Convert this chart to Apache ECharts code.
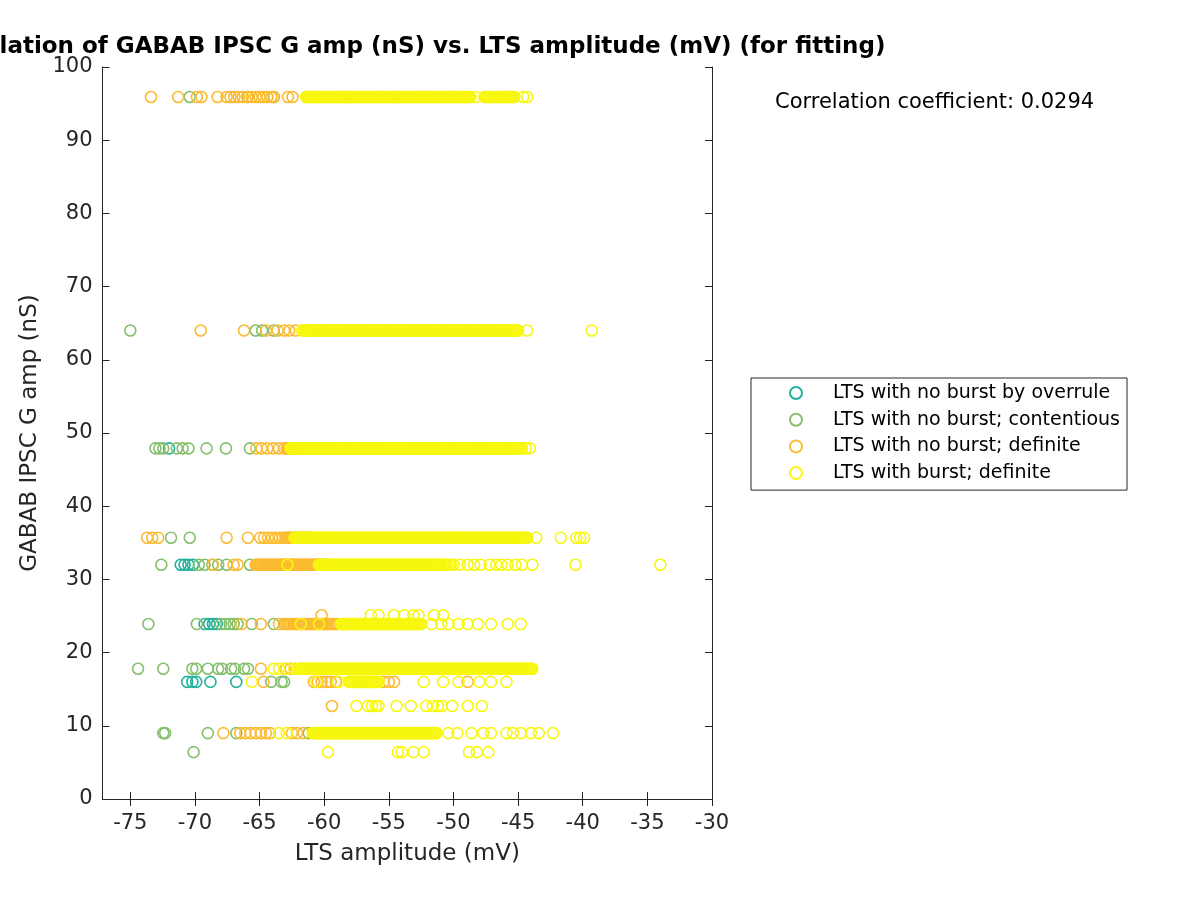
<!DOCTYPE html>
<html>
<head>
<meta charset="utf-8">
<script src="https://cdn.jsdelivr.net/npm/echarts@6/dist/echarts.min.js"></script>
<style>
  html, body { margin: 0; padding: 0; background: #fff; }
  #chart { width: 1200px; height: 900px; }
</style>
</head>
<body>
<div id="chart"></div>
<script>
// tick labels
const xTicks = [-75, -70, -65, -60, -55, -50, -45, -40, -35, -30]
const yTicks = [0, 10, 20, 30, 40, 50, 60, 70, 80, 90, 100]

const seriesNames = [
  'LTS with no burst by overrule',
  'LTS with no burst; contentious',
  'LTS with no burst; definite',
  'LTS with burst; definite'
]
const seriesColors = ['#22b29c', '#84bf6b', '#fbbb31', '#f7f70f']

// rows: [GABAB G amp (nS), LTS amplitudes (mV)]
const overruleRows = [
  [47.9, [-72.0]],
  [32.0, [-71.1, -70.8, -70.5, -70.15]],
  [23.9, [-69.25, -68.9, -68.6, -68.3]],
  [16.0, [-70.6, -70.2, -69.9, -68.8, -66.8]]
]

const contentiousRows = [
  [95.9, [-70.4, -65.9, -63.9]],
  [64.0, [-75.0, -65.3, -64.8, -63.9]],
  [47.9, [-73.05, -72.75, -72.45, -71.4, -70.95, -70.5, -69.1, -67.6, -65.75]],
  [35.7, [-71.85, -70.4]],
  [32.0, [-72.6, -69.7, -69.25, -68.65, -68.2, -67.55, -65.75]],
  [23.9, [-73.6, -69.85, -68.0, -67.65, -67.3, -67.0, -66.7, -65.6, -63.9]],
  [17.8, [-74.4, -72.45, -70.2, -69.9, -69.0, -68.2, -67.9, -67.2, -66.9, -66.2, -65.9]],
  [16.0, [-64.1, -63.3, -63.1]],
  [9.0, [-72.45, -72.3, -69.0, -66.8, -61.2]],
  [6.4, [-70.1]]
]

const definiteRows = [
  [95.9, [-73.4, -71.3, -69.85, -69.5, -68.25, -67.55, -67.25, -66.95, -66.6, -66.3, -65.95, -65.6, -65.3, -65.0, -64.7, -64.4, -64.1, -63.9, -62.8, -62.45, -61.2, -58.0, -54.6]],
  [64.0, [-69.55, -66.2, -64.5, -63.6, -63.1, -62.7, -62.2, -61.3, -52.0]],
  [47.9, [-65.25, -64.85, -64.4, -63.95, -63.5, -63.1, -62.9, -62.8, -62.7, -62.6, -62.5, -62.4, -62.3, -62.2, -62.1, -62.0, -61.9, -61.8, -61.7]],
  [35.7, [-73.7, -73.3, -72.85, -67.55, -65.9, -64.95, -64.65, -64.35, -64.05, -63.75, -63.45, -63.2, -63.0, -62.9, -62.8, -62.7, -62.6, -62.5, -62.4, -62.3, -62.2, -62.1, -62.0, -61.9, -61.8, -61.7, -61.6, -61.5, -61.4, -61.3, -61.2, -61.1, -61.0]],
  [32.0, [-68.6, -67.0, -66.7, -65.3, -65.2, -65.1, -65.0, -64.9, -64.8, -64.7, -64.6, -64.5, -64.4, -64.3, -64.2, -64.1, -64.0, -63.9, -63.8, -63.7, -63.6, -63.5, -63.4, -63.3, -63.2, -63.1, -63.0, -62.9, -62.8, -62.7, -62.6, -62.5, -62.4, -62.3, -62.2, -62.1, -62.0, -61.9, -61.8, -61.7, -61.6, -61.5, -61.4, -61.3, -61.2, -61.1, -61.0, -60.9, -60.8, -60.7, -60.6, -60.5, -60.4, -60.3, -60.2, -60.1, -60.0, -59.8]],
  [25.1, [-60.2]],
  [23.9, [-66.4, -64.9, -63.5, -63.1, -62.95, -62.8, -62.65, -62.5, -62.35, -62.2, -62.05, -61.9, -61.75, -61.6, -61.45, -61.3, -61.15, -61.0, -60.85, -60.7, -60.55, -60.4, -60.25, -60.1, -59.95, -59.8, -59.65, -59.5, -59.35, -59.2, -59.05]],
  [17.8, [-64.9, -63.0, -62.6, -62.3, -61.8]],
  [16.0, [-64.7, -60.8, -60.5, -60.2, -59.8, -59.5, -59.1, -55.4, -55.0, -54.6, -48.9]],
  [12.7, [-59.4]],
  [9.0, [-67.8, -66.5, -66.1, -65.7, -65.3, -64.9, -64.5, -64.2, -62.5, -62.1, -61.6]]
]

const burstRows = [
  [95.9, [-61.4, -61.3, -61.2, -61.1, -61.0,
    -60.9, -60.8, -60.7, -60.6, -60.5, -60.4, -60.3, -60.2, -60.1, -60.0,
    -59.9, -59.8, -59.7, -59.6, -59.5, -59.4, -59.3, -59.2, -59.1, -59.0,
    -58.9, -58.8, -58.7, -58.6, -58.5, -58.4, -58.3, -58.2, -58.1, -58.0,
    -57.9, -57.8, -57.7, -57.6, -57.5, -57.4, -57.3, -57.2, -57.1, -57.0,
    -56.9, -56.8, -56.7, -56.6, -56.5, -56.4, -56.3, -56.2, -56.1, -56.0,
    -55.9, -55.8, -55.7, -55.6, -55.5, -55.4, -55.3, -55.2, -55.1, -55.0,
    -54.9, -54.8, -54.7, -54.6, -54.5, -54.4, -54.3, -54.2, -54.1, -54.0,
    -53.9, -53.8, -53.7, -53.6, -53.5, -53.4, -53.3, -53.2, -53.1, -53.0,
    -52.9, -52.8, -52.7, -52.6, -52.5, -52.4, -52.3, -52.2, -52.1, -52.0,
    -51.9, -51.8, -51.7, -51.6, -51.5, -51.4, -51.3, -51.2, -51.1, -51.0,
    -50.9, -50.8, -50.7, -50.6, -50.5, -50.4, -50.3, -50.2, -50.1, -50.0,
    -49.9, -49.8, -49.7, -49.6, -49.5, -49.4, -49.3, -49.2, -49.1, -49.0,
    -48.9, -48.8, -48.7, -48.3,
    -47.6, -47.5, -47.4, -47.3, -47.2, -47.1, -47.0,
    -46.9, -46.8, -46.7, -46.6, -46.5, -46.4, -46.3, -46.2, -46.1, -46.0,
    -45.9, -45.8, -45.7, -45.6, -45.5, -45.4, -45.3, -44.6, -44.3]],
  [64.0, [-61.7, -61.6, -61.5, -61.4, -61.3, -61.2, -61.1, -61.0,
    -60.9, -60.8, -60.7, -60.6, -60.5, -60.4, -60.3, -60.2, -60.1, -60.0,
    -59.9, -59.8, -59.7, -59.6, -59.5, -59.4, -59.3, -59.2, -59.1, -59.0,
    -58.9, -58.8, -58.7, -58.6, -58.5, -58.4, -58.3, -58.2, -58.1, -58.0,
    -57.9, -57.8, -57.7, -57.6, -57.5, -57.4, -57.3, -57.2, -57.1, -57.0,
    -56.9, -56.8, -56.7, -56.6, -56.5, -56.4, -56.3, -56.2, -56.1, -56.0,
    -55.9, -55.8, -55.7, -55.6, -55.5, -55.4, -55.3, -55.2, -55.1, -55.0,
    -54.9, -54.8, -54.7, -54.6, -54.5, -54.4, -54.3, -54.2, -54.1, -54.0,
    -53.9, -53.8, -53.7, -53.6, -53.5, -53.4, -53.3, -53.2, -53.1, -53.0,
    -52.9, -52.8, -52.7, -52.6, -52.5, -52.4, -52.3, -52.2, -52.1, -52.0,
    -51.9, -51.8, -51.7, -51.6, -51.5, -51.4, -51.3, -51.2, -51.1, -51.0,
    -50.9, -50.8, -50.7, -50.6, -50.5, -50.4, -50.3, -50.2, -50.1, -50.0,
    -49.9, -49.8, -49.7, -49.6, -49.5, -49.4, -49.3, -49.2, -49.1, -49.0,
    -48.9, -48.8, -48.7, -48.6, -48.5, -48.4, -48.3, -48.2, -48.1, -48.0,
    -47.9, -47.8, -47.7, -47.6, -47.5, -47.4, -47.3, -47.2, -47.1, -47.0,
    -46.9, -46.8, -46.7, -46.6, -46.5, -46.4, -46.3, -46.2, -46.1, -46.0,
    -45.9, -45.8, -45.7, -45.6, -45.5, -45.4, -45.3, -45.2, -45.1, -45.0,
    -44.3, -39.3]],
  [47.9, [-62.6, -62.5, -62.4, -62.3, -62.2, -62.1, -62.0,
    -61.9, -61.8, -61.7, -61.6, -61.5, -61.4, -61.3, -61.2, -61.1, -61.0,
    -60.9, -60.8, -60.7, -60.6, -60.5, -60.4, -60.3, -60.2, -60.1, -60.0,
    -59.9, -59.8, -59.7, -59.6, -59.5, -59.4, -59.3, -59.2, -59.1, -59.0,
    -58.9, -58.8, -58.7, -58.6, -58.5, -58.4, -58.3, -58.2, -58.1, -58.0,
    -57.9, -57.8, -57.7, -57.6, -57.5, -57.4, -57.3, -57.2, -57.1, -57.0,
    -56.9, -56.8, -56.7, -56.6, -56.5, -56.4, -56.3, -56.2, -56.1, -56.0,
    -55.9, -55.8, -55.7, -55.6, -55.5, -55.4, -55.3, -55.2, -55.1, -55.0,
    -54.9, -54.8, -54.7, -54.6, -54.5, -54.4, -54.3, -54.2, -54.1, -54.0,
    -53.9, -53.8, -53.7, -53.6, -53.5, -53.4, -53.3, -53.2, -53.1, -53.0,
    -52.9, -52.8, -52.7, -52.6, -52.5, -52.4, -52.3, -52.2, -52.1, -52.0,
    -51.9, -51.8, -51.7, -51.6, -51.5, -51.4, -51.3, -51.2, -51.1, -51.0,
    -50.9, -50.8, -50.7, -50.6, -50.5, -50.4, -50.3, -50.2, -50.1, -50.0,
    -49.9, -49.8, -49.7, -49.6, -49.5, -49.4, -49.3, -49.2, -49.1, -49.0,
    -48.9, -48.8, -48.7, -48.6, -48.5, -48.4, -48.3, -48.2, -48.1, -48.0,
    -47.9, -47.8, -47.7, -47.6, -47.5, -47.4, -47.3, -47.2, -47.1, -47.0,
    -46.9, -46.8, -46.7, -46.6, -46.5, -46.4, -46.3, -46.2, -46.1, -46.0,
    -45.9, -45.8, -45.7, -45.6, -45.5, -45.4, -45.3, -45.2, -45.1, -45.0,
    -44.9, -44.8, -44.7, -44.4, -44.1]],
  [35.7, [-62.3, -62.2, -62.1, -62.0,
    -61.9, -61.8, -61.7, -61.6, -61.5, -61.4, -61.3, -61.2, -61.1, -61.0,
    -60.9, -60.8, -60.7, -60.6, -60.5, -60.4, -60.3, -60.2, -60.1, -60.0,
    -59.9, -59.8, -59.7, -59.6, -59.5, -59.4, -59.3, -59.2, -59.1, -59.0,
    -58.9, -58.8, -58.7, -58.6, -58.5, -58.4, -58.3, -58.2, -58.1, -58.0,
    -57.9, -57.8, -57.7, -57.6, -57.5, -57.4, -57.3, -57.2, -57.1, -57.0,
    -56.9, -56.8, -56.7, -56.6, -56.5, -56.4, -56.3, -56.2, -56.1, -56.0,
    -55.9, -55.8, -55.7, -55.6, -55.5, -55.4, -55.3, -55.2, -55.1, -55.0,
    -54.9, -54.8, -54.7, -54.6, -54.5, -54.4, -54.3, -54.2, -54.1, -54.0,
    -53.9, -53.8, -53.7, -53.6, -53.5, -53.4, -53.3, -53.2, -53.1, -53.0,
    -52.9, -52.8, -52.7, -52.6, -52.5, -52.4, -52.3, -52.2, -52.1, -52.0,
    -51.9, -51.8, -51.7, -51.6, -51.5, -51.4, -51.3, -51.2, -51.1, -51.0,
    -50.9, -50.8, -50.7, -50.6, -50.5, -50.4, -50.3, -50.2, -50.1, -50.0,
    -49.9, -49.8, -49.7, -49.6, -49.5, -49.4, -49.3, -49.2, -49.1, -49.0,
    -48.9, -48.8, -48.7, -48.6, -48.5, -48.4, -48.3, -48.2, -48.1, -48.0,
    -47.9, -47.8, -47.7, -47.6, -47.5, -47.4, -47.3, -47.2, -47.1, -47.0,
    -46.9, -46.8, -46.7, -46.6, -46.5, -46.4, -46.3, -46.2, -46.1, -46.0,
    -45.9, -45.8, -45.7, -45.6, -45.5, -45.4, -45.3, -45.2, -45.1, -45.0,
    -44.9, -44.8, -44.7, -44.6, -44.5, -44.4, -44.3,
    -43.6, -41.7, -40.5, -40.2, -39.9]],
  [32.0, [-62.85, -60.4, -60.3, -60.2, -60.1, -60.0,
    -59.9, -59.8, -59.7, -59.6, -59.5, -59.4, -59.3, -59.2, -59.1, -59.0,
    -58.9, -58.8, -58.7, -58.6, -58.5, -58.4, -58.3, -58.2, -58.1, -58.0,
    -57.9, -57.8, -57.7, -57.6, -57.5, -57.4, -57.3, -57.2, -57.1, -57.0,
    -56.9, -56.8, -56.7, -56.6, -56.5, -56.4, -56.3, -56.2, -56.1, -56.0,
    -55.9, -55.8, -55.7, -55.6, -55.5, -55.4, -55.3, -55.2, -55.1, -55.0,
    -54.9, -54.8, -54.7, -54.6, -54.5, -54.4, -54.3, -54.2, -54.1, -54.0,
    -53.9, -53.8, -53.7, -53.6, -53.5, -53.4, -53.3, -53.2, -53.1, -53.0,
    -52.9, -52.8, -52.7, -52.6, -52.5, -52.4, -52.3, -52.2, -52.1, -52.0,
    -51.9, -51.8, -51.7, -51.6, -51.5, -51.4, -51.3, -51.2, -51.1, -51.0,
    -50.9, -50.7, -50.6, -50.5, -50.3, -50.2, -50.0,
    -49.5, -48.9, -48.4, -47.9, -47.2, -46.7, -46.3, -45.8, -45.2, -44.7, -43.9, -40.56, -34.0]],
  [25.1, [-56.4, -55.8, -54.6, -53.8, -53.1, -52.7, -51.5, -50.8]],
  [23.9, [-61.8, -60.4,
    -58.7, -58.6, -58.5, -58.4, -58.3, -58.2, -58.1, -58.0,
    -57.9, -57.8, -57.7, -57.6, -57.5, -57.4, -57.3, -57.2, -57.1, -57.0,
    -56.9, -56.8, -56.7, -56.6, -56.5, -56.4, -56.3, -56.2, -56.1, -56.0,
    -55.9, -55.8, -55.7, -55.6, -55.5, -55.4, -55.3, -55.2, -55.1, -55.0,
    -54.9, -54.8, -54.7, -54.6, -54.5, -54.4, -54.3, -54.2, -54.1, -54.0,
    -53.9, -53.8, -53.7, -53.6, -53.5, -53.4, -53.3, -53.2, -53.1, -53.0,
    -52.9, -52.8, -52.7, -52.6, -52.5,
    -51.7, -50.95, -50.4, -49.6, -48.9, -48.1, -47.1, -45.8, -44.8]],
  [17.8, [-63.9, -63.5, -62.9, -62.3,
    -62.0, -61.9, -61.8, -61.7, -61.6, -61.5, -61.4, -61.3, -61.2, -61.1, -61.0,
    -60.9, -60.8, -60.7, -60.6, -60.5, -60.4, -60.3, -60.2, -60.1, -60.0,
    -59.9, -59.8, -59.7, -59.6, -59.5, -59.4, -59.3, -59.2, -59.1, -59.0,
    -58.9, -58.8, -58.7, -58.6, -58.5, -58.4, -58.3, -58.2, -58.1, -58.0,
    -57.9, -57.8, -57.7, -57.6, -57.5, -57.4, -57.3, -57.2, -57.1, -57.0,
    -56.9, -56.8, -56.7, -56.6, -56.5, -56.4, -56.3, -56.2, -56.1, -56.0,
    -55.9, -55.8, -55.7, -55.6, -55.5, -55.4, -55.3, -55.2, -55.1, -55.0,
    -54.9, -54.8, -54.7, -54.6, -54.5, -54.4, -54.3, -54.2, -54.1, -54.0,
    -53.9, -53.8, -53.7, -53.6, -53.5, -53.4, -53.3, -53.2, -53.1, -53.0,
    -52.9, -52.8, -52.7, -52.6, -52.5, -52.4, -52.3, -52.2, -52.1, -52.0,
    -51.9, -51.8, -51.7, -51.6, -51.5, -51.4, -51.3, -51.2, -51.1, -51.0,
    -50.9, -50.8, -50.7, -50.6, -50.5, -50.4, -50.3, -50.2, -50.1, -50.0,
    -49.9, -49.8, -49.7, -49.6, -49.5, -49.4, -49.3, -49.2, -49.1, -49.0,
    -48.9, -48.8, -48.7, -48.6, -48.5, -48.4, -48.3, -48.2, -48.1, -48.0,
    -47.9, -47.8, -47.7, -47.6, -47.5, -47.4, -47.3, -47.2, -47.1, -47.0,
    -46.9, -46.8, -46.7, -46.6, -46.5, -46.4, -46.3, -46.2, -46.1, -46.0,
    -45.9, -45.8, -45.7, -45.6, -45.5, -45.4, -45.3, -45.2, -45.1, -45.0,
    -44.9, -44.8, -44.7, -44.6, -44.5, -44.4, -44.3, -44.2, -44.1, -44.0, -43.9]],
  [16.0, [-65.6, -60.6, -58.9,
    -58.1, -58.0, -57.9, -57.8, -57.7, -57.6, -57.5, -57.4, -57.3, -57.2, -57.1, -57.0,
    -56.9, -56.8, -56.7, -56.6, -56.5, -56.4, -56.3, -56.2, -56.1, -56.0, -55.9, -55.8,
    -52.3, -50.8, -49.6, -48.0, -47.1, -45.9]],
  [12.7, [-57.5, -56.6, -56.3, -56.0, -55.8, -54.4, -53.3, -52.1, -51.6, -51.2, -50.9, -50.1, -48.9, -47.8]],
  [9.0, [-63.5, -62.9,
    -60.9, -60.8, -60.7, -60.6, -60.5, -60.4, -60.3, -60.2, -60.1, -60.0,
    -59.9, -59.8, -59.7, -59.6, -59.5, -59.4, -59.3, -59.2, -59.1, -59.0,
    -58.9, -58.8, -58.7, -58.6, -58.5, -58.4, -58.3, -58.2, -58.1, -58.0,
    -57.9, -57.8, -57.7, -57.6, -57.5, -57.4, -57.3, -57.2, -57.1, -57.0,
    -56.9, -56.8, -56.7, -56.6, -56.5, -56.4, -56.3, -56.2, -56.1, -56.0,
    -55.9, -55.8, -55.7, -55.6, -55.5, -55.4, -55.3, -55.2, -55.1, -55.0,
    -54.9, -54.8, -54.7, -54.6, -54.5, -54.4, -54.3, -54.2, -54.1, -54.0,
    -53.9, -53.8, -53.7, -53.6, -53.5, -53.4, -53.3, -53.2, -53.1, -53.0,
    -52.9, -52.8, -52.7, -52.6, -52.5, -52.4, -52.3, -52.2, -52.1, -52.0,
    -51.9, -51.8, -51.7, -51.6, -51.5, -51.4, -51.3,
    -50.4, -49.7, -48.6, -47.7, -47.1, -45.9, -45.4, -44.8, -44.0, -43.4, -42.3]],
  [6.4, [-59.7, -54.3, -54.0, -53.1, -52.3, -48.8, -48.2, -47.3]]
]

const correlationText = 'Correlation coefficient: 0.0294'
const titleText = 'Correlation of GABAB IPSC G amp (nS) vs. LTS amplitude (mV) (for fitting)'

const toPoints = rows => rows.flatMap(([y, xs]) => xs.map(x => [x, y]))
const allRows = [overruleRows, contentiousRows, definiteRows, burstRows]

const FONT = 'DejaVu Sans'
const AXIS_COLOR = '#262626'

const chart = echarts.init(document.getElementById('chart'), null, { renderer: 'canvas' })

const baseAxis = {
  axisLine: { show: true, lineStyle: { color: AXIS_COLOR, width: 1 } },
  axisTick: { show: true, inside: true, length: 7, lineStyle: { color: AXIS_COLOR } },
  splitLine: { show: false }
}

const option = {
  animation: false,
  backgroundColor: '#fff',
  grid: { left: 102.5, right: 488, top: 67, bottom: 101, containLabel: false },
  xAxis: [
    {
      ...baseAxis,
      type: 'value',
      min: -77.15,
      max: -30,
      position: 'bottom',
      axisTick: { ...baseAxis.axisTick, customValues: xTicks },
      axisLabel: {
        customValues: xTicks,
        color: AXIS_COLOR,
        fontFamily: FONT,
        fontSize: 21,
        margin: 14
      },
      name: 'LTS amplitude (mV)',
      nameLocation: 'middle',
      nameGap: 44,
      nameTextStyle: { color: AXIS_COLOR, fontFamily: FONT, fontSize: 23 }
    },
    {
      ...baseAxis,
      type: 'value',
      min: -77.15,
      max: -30,
      position: 'top',
      axisTick: { ...baseAxis.axisTick, customValues: xTicks },
      axisLabel: { show: false }
    }
  ],
  yAxis: [
    {
      ...baseAxis,
      type: 'value',
      min: 0,
      max: 100,
      interval: 10,
      position: 'left',
      axisTick: { ...baseAxis.axisTick, customValues: yTicks },
      axisLabel: {
        customValues: yTicks,
        color: AXIS_COLOR,
        fontFamily: FONT,
        fontSize: 21,
        margin: 10
      },
      name: 'GABAB IPSC G amp (nS)',
      nameLocation: 'middle',
      nameGap: 58,
      nameTextStyle: { color: AXIS_COLOR, fontFamily: FONT, fontSize: 23 }
    },
    {
      ...baseAxis,
      type: 'value',
      min: 0,
      max: 100,
      interval: 10,
      position: 'right',
      axisLabel: { show: false }
    }
  ],
  legend: {
    orient: 'vertical',
    left: 751,
    top: 378,
    padding: [5, 7, 7, 38],
    itemWidth: 12,
    itemHeight: 12,
    itemGap: 6.7,
    borderColor: AXIS_COLOR,
    borderWidth: 1,
    backgroundColor: '#fff',
    selectedMode: false,
    data: seriesNames,
    textStyle: {
      color: '#000',
      fontFamily: FONT,
      fontSize: 19,
      lineHeight: 20,
      padding: [0, 0, 0, 26]
    }
  },
  graphic: [
    {
      type: 'text',
      x: 407,
      y: 47,
      style: {
        text: titleText,
        font: 'bold 23px "DejaVu Sans"',
        fill: '#000',
        textAlign: 'center',
        textVerticalAlign: 'middle'
      }
    },
    {
      type: 'text',
      x: 775,
      y: 103,
      style: {
        text: correlationText,
        font: '21px "DejaVu Sans"',
        fill: '#000',
        textAlign: 'left',
        textVerticalAlign: 'middle'
      }
    }
  ],
  series: allRows.map((rows, i) => ({
    name: seriesNames[i],
    type: 'scatter',
    xAxisIndex: 0,
    yAxisIndex: 0,
    symbol: 'circle',
    symbolSize: 11,
    data: toPoints(rows),
    itemStyle: {
      color: 'rgba(255,255,255,0)',
      borderColor: seriesColors[i],
      borderWidth: 1.6,
      opacity: 1
    },
    emphasis: { disabled: true },
    silent: true
  }))
}

chart.setOption(option)
</script>
</body>
</html>
